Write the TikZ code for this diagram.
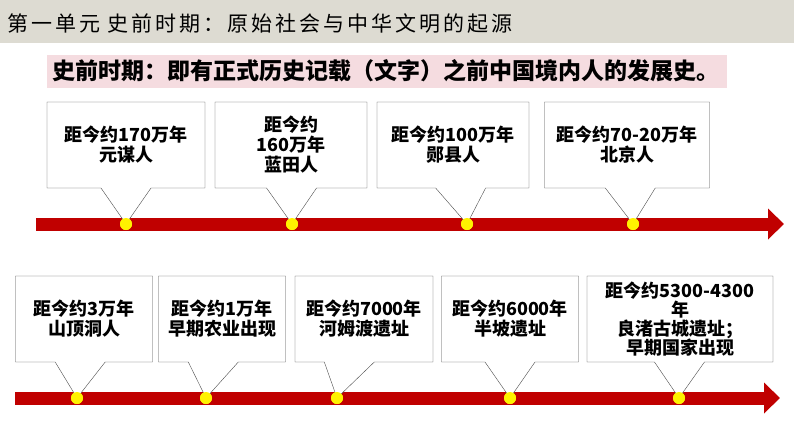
\documentclass[tikz,border=0pt]{standalone}
\usepackage{fontspec}
\setmainfont{Noto Sans CJK SC}
\newfontfamily\titlefont{Noto Sans CJK SC}[LetterSpace=14]
\usetikzlibrary{shapes.callouts,arrows.meta}
\definecolor{barred}{RGB}{192,0,0}
\definecolor{headgray}{RGB}{221,219,210}
\definecolor{notepink}{RGB}{245,220,224}
\tikzset{
  note/.style = {rectangle callout, draw=black!70, fill=white, align=center,
                 font=\bfseries\fontsize{18}{20}\selectfont, inner sep=0pt,
                 callout pointer width=50pt},
  dot/.style  = {circle, fill=yellow, inner sep=0pt, minimum size=12pt},
  bar/.style  = {barred, line width=13pt, -{Triangle[length=16pt,width=30pt]}}
}
\begin{document}
\begin{tikzpicture}[x=1pt,y=-1pt]
  \useasboundingbox (0,0) rectangle (794,447);
  % heading
  \fill[headgray] (0,0) rectangle (794,43);
  \node[anchor=west, font=\titlefont\fontsize{21}{24}\selectfont] (title) at (4,24)
    {第一单元\ 史前时期：原始社会与中华文明的起源};
  \node[fill=notepink, anchor=west, minimum width=680pt, minimum height=33pt,
        text width=670pt, font=\bfseries\fontsize{23}{26}\selectfont] (def) at (47,71)
    {史前时期：即有正式历史记载（文字）之前中国境内人的发展史。};
  % upper time line
  \coordinate (a0) at (36,224);
  \coordinate (a1) at (784,224);
  \draw[bar] (a0) -- (a1);
  \node[dot] (d1) at (126,224) {};
  \node[dot] (d2) at (292,224) {};
  \node[dot] (d3) at (467,224) {};
  \node[dot] (d4) at (633,224) {};
  \node[note, minimum width=158pt, minimum height=86pt, callout absolute pointer=(d1.center)] (n1) at (126,145) {距今约170万年\\元谋人};
  \node[note, minimum width=152pt, minimum height=86pt, callout absolute pointer=(d2.center)] (n2) at (291,145) {距今约\\160万年\\蓝田人};
  \node[note, minimum width=152pt, minimum height=86pt, callout absolute pointer=(d3.center)] (n3) at (453,145) {距今约100万年\\郧县人};
  \node[note, minimum width=165pt, minimum height=86pt, callout absolute pointer=(d4.center)] (n4) at (627,145) {距今约70-20万年\\北京人};
  \foreach \d in {d1,d2,d3,d4} \node[dot] at (\d) {};
  % lower time line
  \coordinate (b0) at (15,398);
  \coordinate (b1) at (780,398);
  \draw[bar] (b0) -- (b1);
  \node[dot] (e1) at (77,398) {};
  \node[dot] (e2) at (206,398) {};
  \node[dot] (e3) at (337,398) {};
  \node[dot] (e4) at (510,398) {};
  \node[dot] (e5) at (679,398) {};
  \node[note, minimum width=137pt, minimum height=86pt, callout absolute pointer=(e1.center)] (m1) at (84,319) {距今约3万年\\山顶洞人};
  \node[note, minimum width=127pt, minimum height=86pt, callout absolute pointer=(e2.center)] (m2) at (222,319) {距今约1万年\\早期农业出现};
  \node[note, minimum width=138pt, minimum height=86pt, callout absolute pointer=(e3.center)] (m3) at (364,319) {距今约7000年\\河姆渡遗址};
  \node[note, minimum width=137pt, minimum height=86pt, callout absolute pointer=(e4.center)] (m4) at (510,319) {距今约6000年\\半坡遗址};
  \node[note, minimum width=186pt, minimum height=86pt, callout absolute pointer=(e5.center),
        font=\bfseries\fontsize{18}{19}\selectfont] (m5) at (680,319) {距今约5300-4300\\年\\良渚古城遗址；\\早期国家出现};
  \foreach \d in {e1,e2,e3,e4,e5} \node[dot] at (\d) {};
\end{tikzpicture}
\end{document}
